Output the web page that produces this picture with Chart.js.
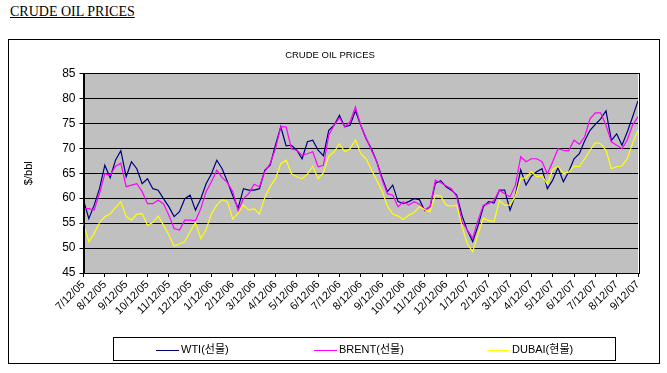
<!DOCTYPE html>
<html>
<head>
<meta charset="utf-8">
<title>Crude Oil Prices</title>
<script src="https://cdn.jsdelivr.net/npm/chart.js@4"></script>
<style>
    body { margin: 0; background: #fff; width: 667px; height: 373px; position: relative; overflow: hidden; }
    #pageTitle {
        position: absolute; left: 10px; top: 4px; line-height: 16px;
        font-family: 'Liberation Serif', 'Times New Roman', serif; font-size: 14px;
        text-decoration: underline; color: #000;
    }
    #frame { position: absolute; left: 8px; top: 39px; width: 650px; height: 323px; border: 1px solid #000; }
    #chartOil { position: absolute; left: 0; top: 0; }
    #legend {
        position: absolute; left: 113px; top: 337px; width: 501px; height: 22px; border: 1px solid #000;
        font-family: 'Liberation Sans', 'Noto Sans CJK KR', sans-serif; font-size: 11px; color: #000;
    }
    .legend-item { position: absolute; top: 4px; height: 14px; line-height: 14px; white-space: nowrap; }
    .legend-line { display: inline-block; width: 23px; height: 1px; vertical-align: middle; margin-right: 2px; }
</style>
</head>
<body>
<div id="pageTitle">CRUDE OIL PRICES</div>
<div id="frame"></div>
<canvas id="chartOil" width="667" height="373"></canvas>
<div id="legend"></div>
<script>
// month labels on the category axis, 7/12/05 .. 9/12/07
const monthLabels = ['7/12/05', '8/12/05', '9/12/05', '10/12/05', '11/12/05', '12/12/05',
    '1/12/06', '2/12/06', '3/12/06', '4/12/06', '5/12/06', '6/12/06', '7/12/06', '8/12/06',
    '9/12/06', '10/12/06', '11/12/06', '12/12/06', '1/12/07', '2/12/07', '3/12/07', '4/12/07',
    '5/12/07', '6/12/07', '7/12/07', '8/12/07', '9/12/07'];

// prices, 4 readings per month ($/bbl)
const samplesPerMonth = 4;

const wti = [59.6, 55.9, 58.6, 61.9, 66.6, 64.1, 67.6, 69.5, 64.3, 67.3, 65.9, 62.9, 63.9,
    61.9, 61.6, 59.9, 58.3, 56.3, 57.3, 59.9, 60.6, 57.6, 59.9, 62.9, 64.9, 67.6,
    65.9, 63.3, 60.5, 58.0, 61.9, 61.6, 61.6, 61.9, 65.6, 66.6, 70.6, 74.3, 70.5,
    70.6, 69.6, 67.9, 71.3, 71.6, 69.6, 68.5, 73.6, 74.6, 76.6, 74.3, 74.6, 77.5,
    74.6, 71.9, 69.9, 67.3, 64.1, 61.3, 62.6, 59.3, 58.9, 59.3, 59.9, 59.7, 57.5,
    58.3, 63.0, 63.5, 62.3, 61.6, 60.6, 56.5, 53.5, 51.3, 54.5, 58.3, 59.3, 59.0,
    61.6, 61.6, 57.6, 60.6, 65.7, 62.6, 64.4, 65.3, 65.9, 61.9, 63.6, 66.1, 63.3,
    65.3, 67.9, 68.9, 71.5, 73.6, 74.8, 75.9, 77.5, 71.6, 72.9, 70.6, 73.3, 76.3, 79.5];

const brent = [57.9, 57.9, 57.6, 60.9, 64.9, 64.6, 66.4, 67.0, 62.3, 62.6, 62.9, 61.3, 58.9,
    58.9, 59.6, 58.9, 56.6, 53.9, 53.6, 55.6, 55.6, 55.5, 57.9, 61.3, 63.3, 65.6,
    64.1, 63.1, 61.3, 57.5, 59.9, 60.9, 62.8, 62.3, 65.3, 66.9, 69.9, 74.3, 74.3,
    69.9, 69.6, 68.6, 68.9, 69.3, 66.3, 66.6, 72.6, 74.6, 76.1, 74.3, 75.3, 78.3,
    74.6, 72.1, 69.6, 67.3, 63.7, 60.9, 60.6, 58.3, 59.3, 58.6, 59.3, 58.8, 57.7,
    58.3, 63.6, 63.1, 62.5, 61.9, 60.3, 55.3, 53.6, 52.0, 55.6, 58.6, 58.9, 59.5,
    61.6, 60.9, 60.3, 62.6, 68.3, 67.3, 67.9, 67.9, 67.3, 64.9, 67.3, 69.9, 69.6,
    69.5, 71.6, 70.8, 72.3, 75.9, 77.1, 77.1, 74.6, 71.3, 70.6, 69.9, 71.7, 74.7, 76.3];

const dubai = [54.9, 51.3, 52.9, 55.1, 56.3, 56.8, 58.1, 59.3, 56.3, 55.6, 56.8, 56.9, 54.6,
    55.1, 56.4, 54.6, 52.6, 50.4, 50.8, 51.3, 53.3, 55.1, 51.9, 53.7, 56.9, 58.6,
    59.7, 59.3, 55.8, 57.0, 58.6, 57.6, 57.9, 56.8, 60.1, 62.3, 63.9, 66.9, 67.6,
    64.9, 64.3, 63.9, 64.8, 66.4, 63.9, 65.1, 68.4, 69.3, 70.9, 69.3, 69.9, 71.7,
    68.9, 67.9, 65.7, 63.6, 61.5, 58.4, 56.8, 56.4, 55.7, 56.6, 57.1, 58.3, 57.7,
    57.3, 60.6, 60.4, 58.6, 58.4, 58.6, 54.3, 50.8, 49.3, 52.8, 56.0, 55.5, 55.3,
    59.5, 58.6, 58.6, 60.4, 63.9, 64.1, 65.3, 64.3, 64.5, 62.8, 65.7, 66.4, 64.9,
    65.2, 66.4, 66.3, 67.9, 69.6, 71.1, 70.9, 69.6, 65.9, 66.3, 66.5, 67.9, 71.1, 73.6];

const seriesNames = ['WTI(선물)', 'BRENT(선물)', 'DUBAI(현물)'];
const seriesColors = ['#000080', '#ff00ff', '#ffff00'];

const yTicks = { min: 45, max: 85, step: 5 };

Chart.defaults.font.family = "'Liberation Sans', Arial, sans-serif";
Chart.defaults.color = '#000';

function toPoints(values) {
    return values.map((v, i) => ({ x: i / samplesPerMonth, y: v }));
}

// grey plot area with a black frame, like the spreadsheet chart
const plotFrame = {
    id: 'plotFrame',
    beforeDraw(chart) {
        const { ctx, chartArea } = chart;
        ctx.save();
        ctx.fillStyle = '#c0c0c0';
        ctx.fillRect(chartArea.left, chartArea.top, chartArea.right - chartArea.left, chartArea.bottom - chartArea.top);
        ctx.restore();
    },
    afterDraw(chart) {
        const { ctx, chartArea } = chart;
        ctx.save();
        ctx.strokeStyle = '#000';
        ctx.lineWidth = 1;
        ctx.strokeRect(Math.round(chartArea.left) + 0.5, Math.round(chartArea.top) + 0.5,
            Math.round(chartArea.right - chartArea.left), Math.round(chartArea.bottom - chartArea.top));
        ctx.restore();
    }
};

function buildLegend() {
    const box = document.getElementById('legend');
    const lefts = [42, 200, 373];
    seriesNames.forEach((name, i) => {
        const item = document.createElement('div');
        item.className = 'legend-item';
        item.style.left = lefts[i] + 'px';
        const line = document.createElement('span');
        line.className = 'legend-line';
        line.style.background = seriesColors[i];
        item.appendChild(line);
        item.appendChild(document.createTextNode(name));
        box.appendChild(item);
    });
}

function initOilChart() {
    const ctx = document.getElementById('chartOil');
    const seriesData = [wti, brent, dubai];
    new Chart(ctx, {
        type: 'line',
        data: {
            datasets: seriesData.map((values, i) => ({
                label: seriesNames[i],
                data: toPoints(values),
                borderColor: seriesColors[i],
                backgroundColor: seriesColors[i],
                borderWidth: 1.2,
                pointRadius: 0,
                tension: 0,
                order: 3 - i
            }))
        },
        options: {
            responsive: false,
            animation: false,
            events: [],
            layout: {
                padding: { top: 50, left: 22, right: 29, bottom: 0 }
            },
            plugins: {
                legend: { display: false },
                tooltip: { enabled: false },
                title: {
                    display: true,
                    text: 'CRUDE OIL PRICES',
                    color: '#000',
                    font: { size: 9.5, weight: 'normal' },
                    padding: { top: 0, bottom: 12 }
                }
            },
            scales: {
                x: {
                    type: 'linear',
                    min: 0,
                    max: monthLabels.length - 1,
                    afterFit(scale) { scale.height = 100; },
                    border: { color: '#000' },
                    grid: { drawOnChartArea: false, color: '#000', tickLength: 4 },
                    ticks: {
                        stepSize: 1,
                        autoSkip: false,
                        minRotation: 45,
                        maxRotation: 45,
                        padding: 1,
                        font: { size: 11 },
                        callback: (value) => monthLabels[value]
                    }
                },
                y: {
                    min: yTicks.min,
                    max: yTicks.max,
                    afterFit(scale) { scale.width = 61.5; },
                    border: { color: '#000' },
                    grid: { color: '#000', tickLength: 4 },
                    ticks: { stepSize: yTicks.step, padding: 4, font: { size: 12 } },
                    title: {
                        display: true,
                        text: '$/bbl',
                        color: '#000',
                        font: { size: 11 },
                        padding: 0
                    }
                }
            }
        },
        plugins: [plotFrame]
    });
}

buildLegend();
initOilChart();
</script>
</body>
</html>
